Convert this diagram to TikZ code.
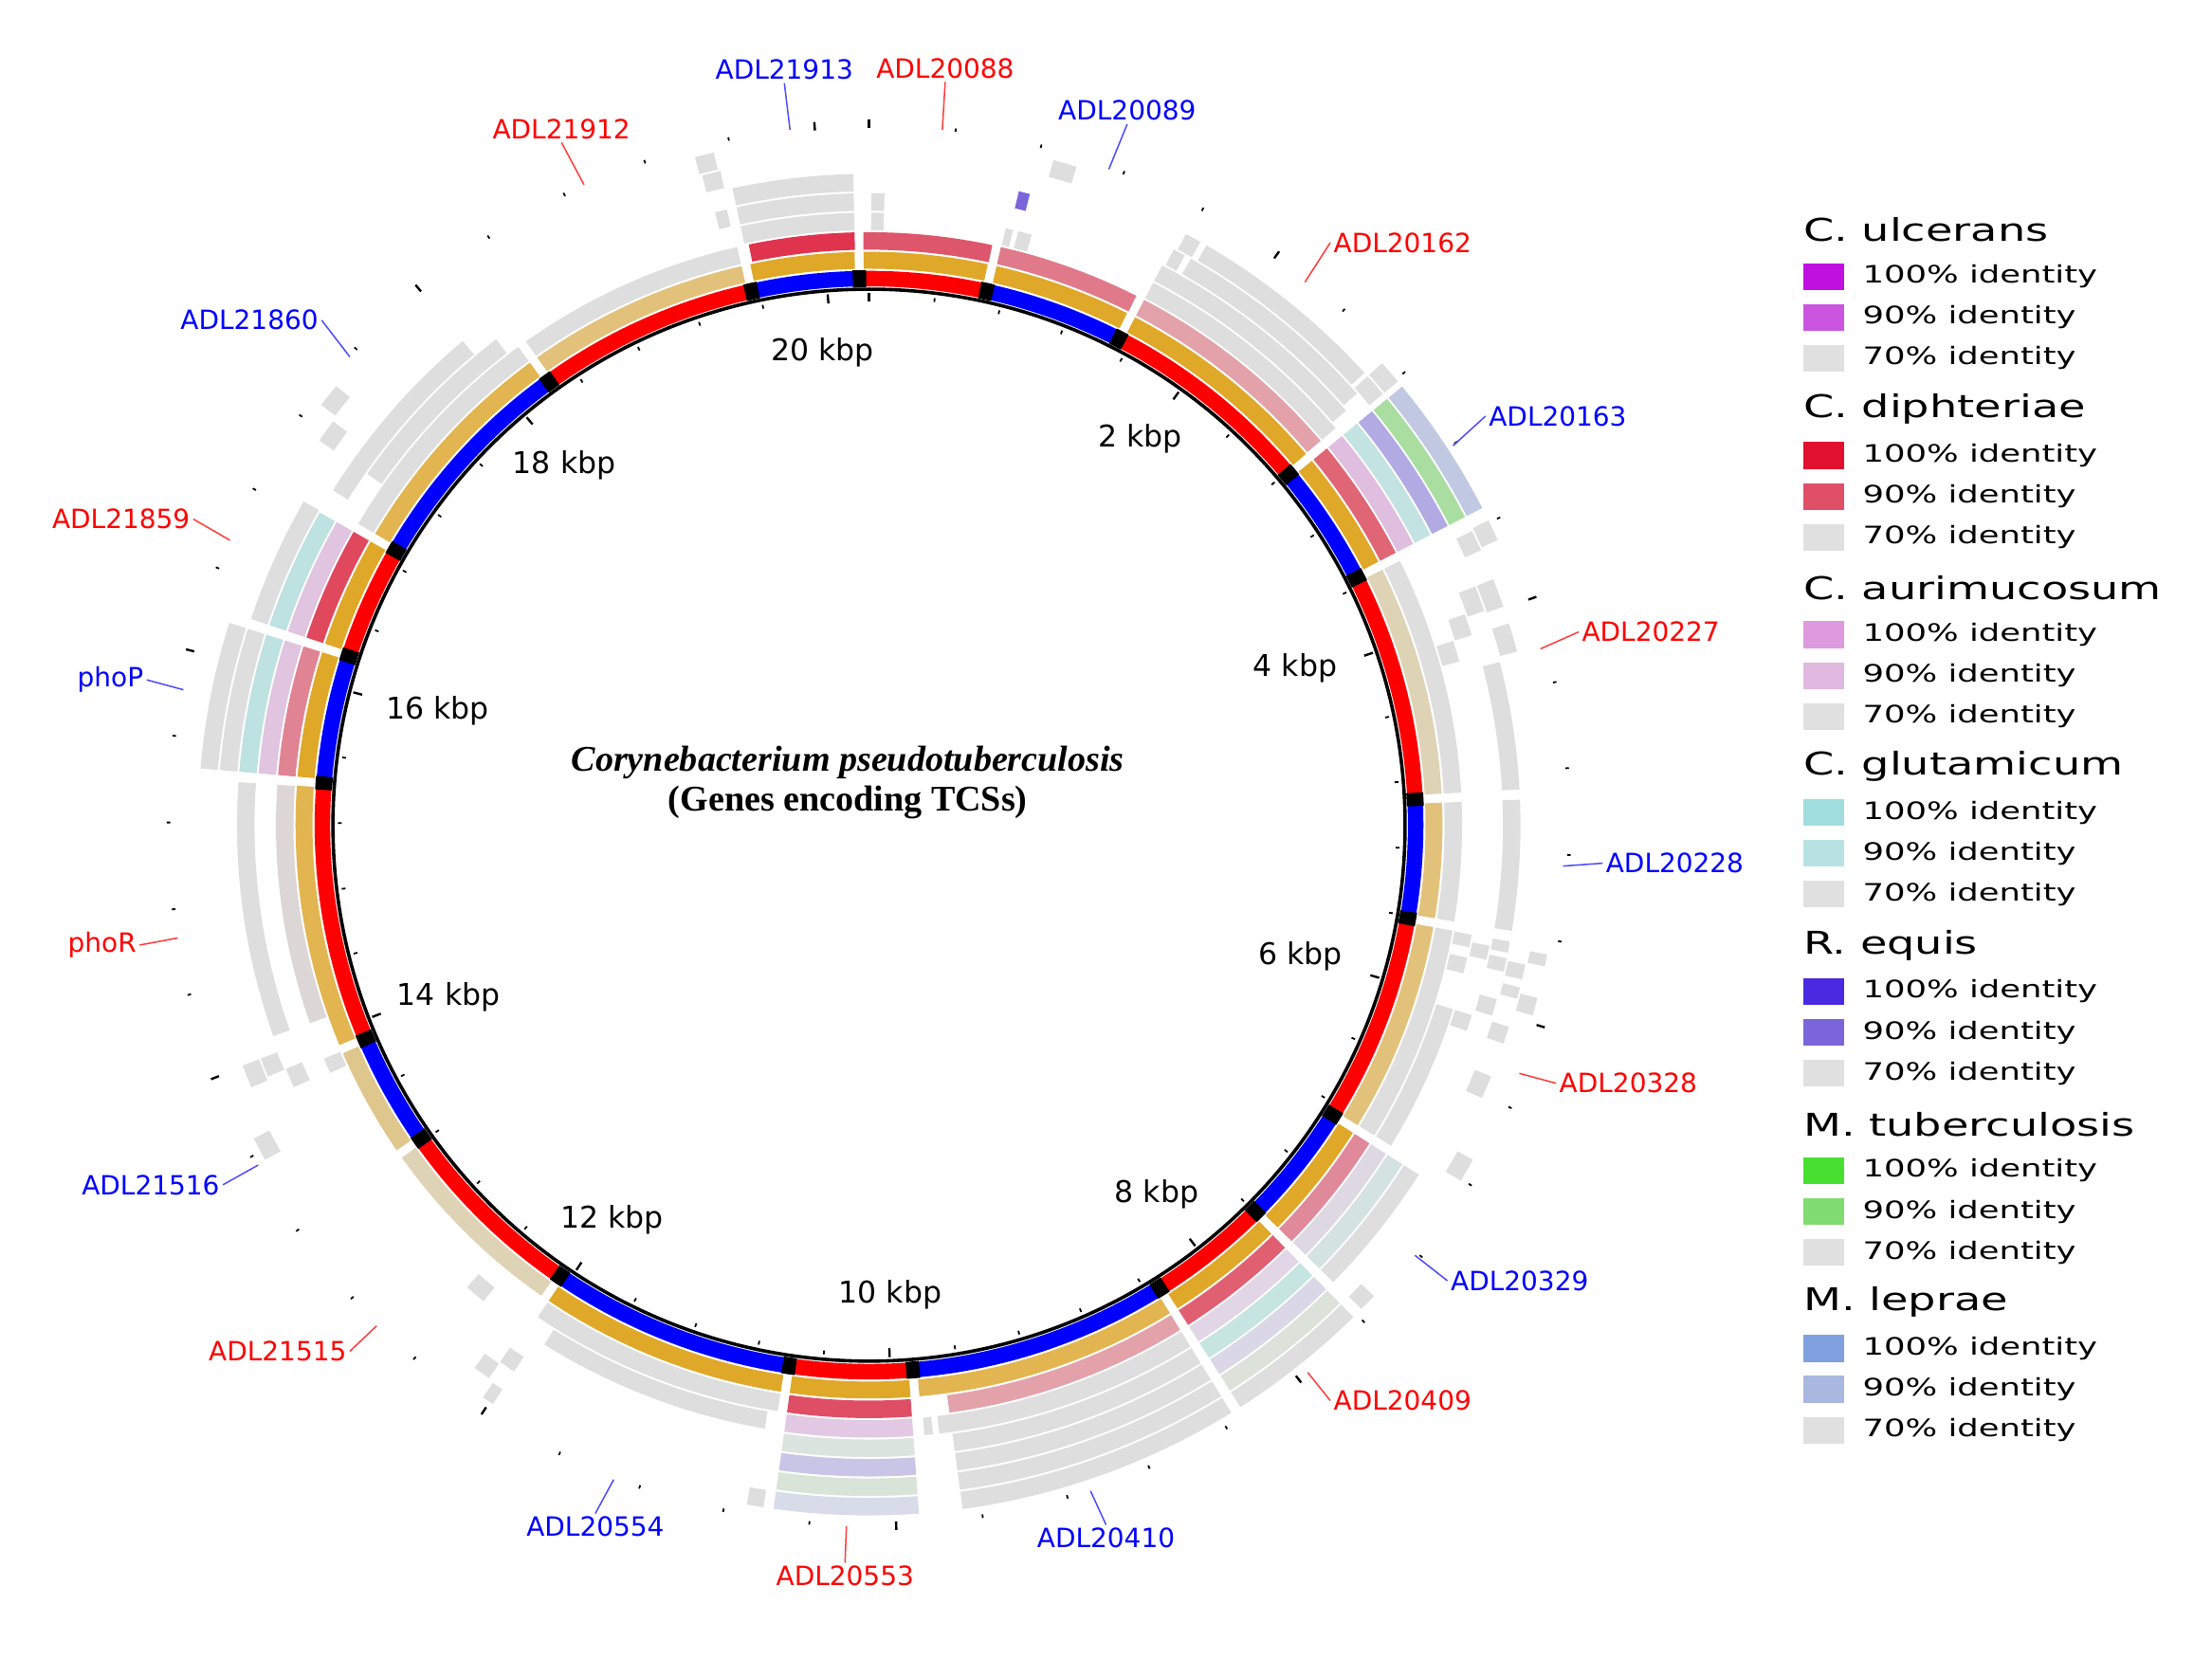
\documentclass[tikz,border=0pt]{standalone}
\usepackage{fontspec}
\setmainfont{DejaVu Sans}
\newfontfamily\serifb{Liberation Serif}
\newfontfamily\legfont[FakeStretch=1.4]{DejaVu Sans}
\definecolor{genred}{HTML}{FF0000}
\definecolor{genblue}{HTML}{0000FF}
\definecolor{leadr}{HTML}{FF3a3a}
\definecolor{leadb}{HTML}{4a4aFF}
\definecolor{gd}{HTML}{E0A828}
\definecolor{gmed}{HTML}{E2B550}
\definecolor{glight}{HTML}{E2C27A}
\definecolor{gbeige}{HTML}{DED3B5}
\definecolor{gtan}{HTML}{DFC68C}
\definecolor{gry}{HTML}{DEDEDE}
\definecolor{ra}{HTML}{E0344E}
\definecolor{rb}{HTML}{DE566C}
\definecolor{rc}{HTML}{E07A8A}
\definecolor{rd}{HTML}{E3A2AA}
\definecolor{re}{HTML}{E06676}
\definecolor{rf}{HTML}{E0899A}
\definecolor{rg}{HTML}{E06072}
\definecolor{rh}{HTML}{E04E66}
\definecolor{ri}{HTML}{DCD6D6}
\definecolor{rj}{HTML}{E08494}
\definecolor{rk}{HTML}{E0485E}
\definecolor{pa}{HTML}{DFBEDF}
\definecolor{pb}{HTML}{DDD8E2}
\definecolor{pc}{HTML}{E2D6E6}
\definecolor{pd}{HTML}{E2C8E2}
\definecolor{pe}{HTML}{E0C4E0}
\definecolor{ta}{HTML}{C2E3E2}
\definecolor{tb}{HTML}{D5E2E2}
\definecolor{tc}{HTML}{C6E4E0}
\definecolor{td}{HTML}{DCE4E0}
\definecolor{te}{HTML}{BEE1E1}
\definecolor{va}{HTML}{B2AAE2}
\definecolor{vb}{HTML}{7A66DA}
\definecolor{vc}{HTML}{DAD8E6}
\definecolor{vd}{HTML}{C9C5E6}
\definecolor{ga}{HTML}{A9DEA0}
\definecolor{gb}{HTML}{DCE1DA}
\definecolor{gc}{HTML}{D7E4D7}
\definecolor{ba}{HTML}{C1C9E2}
\definecolor{bb}{HTML}{D8DCE8}
\definecolor{lua}{HTML}{C010E0}
\definecolor{lub}{HTML}{CC55E0}
\definecolor{lgr}{HTML}{E0E0E0}
\definecolor{lda}{HTML}{E0102E}
\definecolor{ldb}{HTML}{DF5068}
\definecolor{laa}{HTML}{DE9ADE}
\definecolor{lab}{HTML}{E0B8E0}
\definecolor{lca}{HTML}{A0DEDE}
\definecolor{lcb}{HTML}{B8E2E2}
\definecolor{lra}{HTML}{4A2AE0}
\definecolor{lrb}{HTML}{7A66DA}
\definecolor{lma}{HTML}{48E030}
\definecolor{lmb}{HTML}{80DC70}
\definecolor{lla}{HTML}{80A0E0}
\definecolor{llb}{HTML}{A8B8E0}
\newcommand{\arcseg}[5]{\fill[#5] ({#1-90}:#3) arc[start angle={#1-90},end angle={#2-90},radius=#3] -- ({#2-90}:#4) arc[start angle={#2-90},end angle={#1-90},radius=#4] -- cycle;}
\newcommand{\rseg}[4]{\pgfmathsetmacro{\myrin}{408+(#1-1)*13.8}\pgfmathsetmacro{\myrout}{\myrin+12.4}\arcseg{#2}{#3}{\myrin}{\myrout}{#4}}
\newcommand{\gseg}[3]{\arcseg{#1}{#2}{394.5}{406.5}{#3}}
\newcommand{\legrow}[4]{\fill[#3] (1278,#2-9.5) rectangle (1307,#2+9.5); \node[legtext] (leg#1) at (1320,#2) {#4};}
\begin{document}
\begin{tikzpicture}[x=0.5pt,y=-0.5pt,
  lbl/.style={inner sep=1pt, font=\fontsize{9.4}{11}\selectfont},
  lblred/.style={lbl, text=genred},
  lblblue/.style={lbl, text=genblue},
  leadred/.style={draw=leadr, line width=0.5pt},
  leadblue/.style={draw=leadb, line width=0.5pt},
  kbplabel/.style={font=\fontsize{10.6}{12}\selectfont, inner sep=0pt},
  legtext/.style={anchor=west, inner sep=0pt, font=\legfont\fontsize{8.5}{10}\selectfont},
  leghead/.style={anchor=west, inner sep=0pt, font=\legfont\fontsize{11.1}{13}\selectfont},
  tickminor/.style={line width=0.6pt},
  tickmajor/.style={line width=0.8pt}]
\useasboundingbox (0,0) rectangle (1568,1175);
\fill[white] (0,0) rectangle (1568,1175);
\begin{scope}[shift={(616,585)}]
% gene ring
\arcseg{-1}{12.4}{382}{393}{genred}
\arcseg{12.4}{27.2}{382}{393}{genblue}
\arcseg{27.2}{50.1}{382}{393}{genred}
\arcseg{50.1}{63.1}{382}{393}{genblue}
\arcseg{63.1}{87.3}{382}{393}{genred}
\arcseg{87.3}{99.8}{382}{393}{genblue}
\arcseg{99.8}{122}{382}{393}{genred}
\arcseg{122}{135}{382}{393}{genblue}
\arcseg{135}{147.9}{382}{393}{genred}
\arcseg{147.9}{175.4}{382}{393}{genblue}
\arcseg{175.4}{188.4}{382}{393}{genred}
\arcseg{188.4}{214.4}{382}{393}{genblue}
\arcseg{214.4}{235}{382}{393}{genred}
\arcseg{235}{247}{382}{393}{genblue}
\arcseg{247}{274.4}{382}{393}{genred}
\arcseg{274.4}{288}{382}{393}{genblue}
\arcseg{288}{300.1}{382}{393}{genred}
\arcseg{300.1}{324.2}{382}{393}{genblue}
\arcseg{324.2}{347.6}{382}{393}{genred}
\arcseg{347.6}{359}{382}{393}{genblue}
\foreach \bb in {-1,12.4,27.2,50.1,63.1,87.3,99.8,122,135,147.9,175.4,188.4,214.4,235,247,274.4,288,300.1,324.2,347.6} {\arcseg{\bb-0.7}{\bb+0.7}{381.5}{393.5}{black}}
% gold ring
\gseg{-0.55}{11.95}{gd}
\gseg{12.85}{26.75}{gd}
\gseg{27.65}{49.65}{gd}
\gseg{50.55}{62.65}{gd}
\gseg{63.55}{86.85}{gbeige}
\gseg{87.75}{99.35}{glight}
\gseg{100.25}{121.55}{glight}
\gseg{122.45}{134.55}{gd}
\gseg{135.45}{147.45}{gd}
\gseg{148.35}{174.95}{gmed}
\gseg{175.85}{187.95}{gd}
\gseg{188.85}{213.95}{gd}
\gseg{214.85}{234.55}{gbeige}
\gseg{235.45}{246.55}{gtan}
\gseg{247.45}{273.95}{gmed}
\gseg{274.85}{287.55}{gd}
\gseg{288.45}{299.65}{gd}
\gseg{300.55}{323.75}{gmed}
\gseg{324.65}{347.15}{glight}
\gseg{348.05}{358.55}{gd}
% ring 1
\rseg{1}{348.3}{358.6}{ra}
\rseg{1}{-0.55}{12.0}{rb}
\rseg{1}{12.85}{26.8}{rc}
\rseg{1}{27.65}{49.6}{rd}
\rseg{1}{50.55}{62.65}{re}
\rseg{1}{63.55}{86.85}{gry}
\rseg{1}{87.75}{99.35}{gry}
\rseg{1}{100.25}{121.55}{gry}
\rseg{1}{122.45}{134.55}{rf}
\rseg{1}{135.45}{147.45}{rg}
\rseg{1}{148.35}{172.2}{rd}
\rseg{1}{175.85}{187.95}{rh}
\rseg{1}{188.85}{213.95}{gry}
\rseg{1}{245.3}{246.8}{gry}
\rseg{1}{250.5}{273.9}{ri}
\rseg{1}{274.85}{287.55}{rj}
\rseg{1}{288.45}{299.65}{rk}
\rseg{1}{300.55}{323.75}{gry}
\rseg{1}{324.65}{347.15}{gry}
% ring 2
\rseg{2}{347.9}{358.6}{gry}
\rseg{2}{0.2}{1.4}{gry}
\rseg{2}{12.9}{13.6}{gry}
\rseg{2}{14.1}{15.4}{gry}
\rseg{2}{27.65}{49.6}{gry}
\rseg{2}{50.55}{62.65}{pa}
\rseg{2}{72.5}{74.5}{gry}
\rseg{2}{100.3}{101.5}{gry}
\rseg{2}{102.5}{104}{gry}
\rseg{2}{107.5}{121.55}{gry}
\rseg{2}{122.45}{134.55}{pb}
\rseg{2}{135.45}{147.45}{pc}
\rseg{2}{148.35}{173.4}{gry}
\rseg{2}{174}{174.8}{gry}
\rseg{2}{175.85}{187.95}{pd}
\rseg{2}{189.8}{212}{gry}
\rseg{2}{219}{221}{gry}
\rseg{2}{274.85}{287.55}{pe}
\rseg{2}{288.45}{299.65}{pe}
\rseg{2}{305}{322.5}{gry}
% ring 3
\rseg{3}{347.9}{358.6}{gry}
\rseg{3}{0.2}{1.4}{gry}
\rseg{3}{27.65}{49}{gry}
\rseg{3}{50.55}{62.65}{ta}
\rseg{3}{70.5}{72.5}{gry}
\rseg{3}{101}{102.3}{gry}
\rseg{3}{107.5}{109}{gry}
\rseg{3}{122.45}{134.55}{tb}
\rseg{3}{135.45}{147.45}{tc}
\rseg{3}{148.35}{172.2}{gry}
\rseg{3}{175.85}{187.95}{td}
\rseg{3}{245.5}{247.3}{gry}
\rseg{3}{250.5}{273.9}{gry}
\rseg{3}{274.85}{287.55}{te}
\rseg{3}{288.45}{299.65}{te}
\rseg{3}{302}{320}{gry}
\rseg{3}{345.9}{347}{gry}
% ring 4
\rseg{4}{347.9}{358.6}{gry}
\rseg{4}{13.3}{14.3}{vb}
\rseg{4}{27.9}{29}{gry}
\rseg{4}{29.6}{48.5}{gry}
\rseg{4}{50.55}{62.65}{va}
\rseg{4}{68.5}{70.8}{gry}
\rseg{4}{75.5}{86.85}{gry}
\rseg{4}{87.75}{99.35}{gry}
\rseg{4}{100.3}{101.3}{gry}
\rseg{4}{101.8}{103}{gry}
\rseg{4}{105.5}{107}{gry}
\rseg{4}{122.45}{134.55}{gry}
\rseg{4}{135.45}{147.45}{vc}
\rseg{4}{148.35}{172.2}{gry}
\rseg{4}{175.85}{187.95}{vd}
\rseg{4}{213}{214.5}{gry}
\rseg{4}{247.3}{249}{gry}
\rseg{4}{274.85}{287.55}{gry}
\rseg{4}{288.45}{299.8}{gry}
% ring 5
\rseg{5}{28.2}{29.6}{gry}
\rseg{5}{30.2}{47.6}{gry}
\rseg{5}{48}{50}{gry}
\rseg{5}{50.55}{62.65}{ga}
\rseg{5}{64}{65.8}{gry}
\rseg{5}{68.5}{71}{gry}
\rseg{5}{72.5}{75}{gry}
\rseg{5}{102}{103.3}{gry}
\rseg{5}{104}{105}{gry}
\rseg{5}{107.5}{109}{gry}
\rseg{5}{112}{114}{gry}
\rseg{5}{135.45}{147.45}{gb}
\rseg{5}{148.35}{172.2}{gry}
\rseg{5}{175.85}{187.95}{gc}
\rseg{5}{214.5}{216}{gry}
\rseg{5}{247}{249}{gry}
\rseg{5}{274.85}{287.55}{gry}
\rseg{5}{305}{307}{gry}
\rseg{5}{345.6}{347.2}{gry}
% ring 6
\rseg{6}{15.5}{17.5}{gry}
\rseg{6}{48}{50}{gry}
\rseg{6}{50.55}{62.65}{ba}
\rseg{6}{63.8}{65.6}{gry}
\rseg{6}{100.8}{101.8}{gry}
\rseg{6}{104.5}{106}{gry}
\rseg{6}{119}{121}{gry}
\rseg{6}{133}{134.5}{gry}
\rseg{6}{135.45}{147.45}{gry}
\rseg{6}{148.35}{172.2}{gry}
\rseg{6}{175.85}{187.95}{bb}
\rseg{6}{188.8}{190.2}{gry}
\rseg{6}{213}{214}{gry}
\rseg{6}{241}{243}{gry}
\rseg{6}{307.5}{309.5}{gry}
\rseg{6}{345.4}{347}{gry}
% ticks
\foreach \k in {0,...,50}{
  \pgfmathsetmacro{\tka}{\k*0.4*360/20.25-90}
  \pgfmathtruncatemacro{\tkm}{mod(\k,5)}
  \ifnum\tkm=0
    \draw[tickmajor] (\tka:371) -- (\tka:377.5);
    \draw[tickmajor] (\tka:494) -- (\tka:500);
  \else
    \draw[tickminor] (\tka:373.8) -- (\tka:376.5);
    \draw[tickminor] (\tka:495.3) -- (\tka:497.8);
  \fi
}
\draw[line width=1.2pt] (0,0) circle[radius=380];
\end{scope}
% kbp labels
\node[kbplabel] (k2) at (808,311) {2 kbp};
\node[kbplabel] (k4) at (918,474) {4 kbp};
\node[kbplabel] (k6) at (922,678) {6 kbp};
\node[kbplabel] (k8) at (820,847) {8 kbp};
\node[kbplabel] (k10) at (631,918) {10 kbp};
\node[kbplabel] (k12) at (434,865) {12 kbp};
\node[kbplabel] (k14) at (318,707) {14 kbp};
\node[kbplabel] (k16) at (310,504) {16 kbp};
\node[kbplabel] (k18) at (400,330) {18 kbp};
\node[kbplabel] (k20) at (583,250) {20 kbp};
% center title
\node[align=center, font=\serifb\fontsize{12.8}{14}\selectfont\bfseries] (ctitle) at (601,555) {\textit{Corynebacterium pseudotuberculosis}\\(Genes encoding TCSs)};
% gene labels
\node[lblblue, anchor=south] (L21913) at (556,59) {ADL21913};
\coordinate (E21913) at (560,92);
\draw[leadblue] (L21913.south) -- (E21913);
\node[lblred, anchor=south] (L20088) at (670,58) {ADL20088};
\coordinate (E20088) at (668,92);
\draw[leadred] (L20088.south) -- (E20088);
\node[lblblue, anchor=south] (L20089) at (799,88) {ADL20089};
\coordinate (E20089) at (786,120);
\draw[leadblue] (L20089.south) -- (E20089);
\node[lblred, anchor=south] (L21912) at (398,101) {ADL21912};
\coordinate (E21912) at (414,131);
\draw[leadred] (L21912.south) -- (E21912);
\node[lblred, anchor=west] (L20162) at (943,172) {ADL20162};
\coordinate (E20162) at (925,200);
\draw[leadred] (L20162.west) -- (E20162);
\node[lblblue, anchor=west] (L20163) at (1053,295) {ADL20163};
\coordinate (E20163) at (1030,316);
\draw[leadblue] (L20163.west) -- (E20163);
\node[lblred, anchor=west] (L20227) at (1119,448) {ADL20227};
\coordinate (E20227) at (1092,460);
\draw[leadred] (L20227.west) -- (E20227);
\node[lblblue, anchor=west] (L20228) at (1136,612) {ADL20228};
\coordinate (E20228) at (1108,614);
\draw[leadblue] (L20228.west) -- (E20228);
\node[lblred, anchor=west] (L20328) at (1103,768) {ADL20328};
\coordinate (E20328) at (1077,761);
\draw[leadred] (L20328.west) -- (E20328);
\node[lblblue, anchor=west] (L20329) at (1026,908) {ADL20329};
\coordinate (E20329) at (1003,890);
\draw[leadblue] (L20329.west) -- (E20329);
\node[lblred, anchor=west] (L20409) at (943,993) {ADL20409};
\coordinate (E20409) at (927,973);
\draw[leadred] (L20409.west) -- (E20409);
\node[lblblue, anchor=east] (L21860) at (228,227) {ADL21860};
\coordinate (E21860) at (248,253);
\draw[leadblue] (L21860.east) -- (E21860);
\node[lblred, anchor=east] (L21859) at (137,368) {ADL21859};
\coordinate (E21859) at (163,383);
\draw[leadred] (L21859.east) -- (E21859);
\node[lblblue, anchor=east] (LphoP) at (104,482) {phoP};
\coordinate (EphoP) at (130,489);
\draw[leadblue] (LphoP.east) -- (EphoP);
\node[lblred, anchor=east] (LphoR) at (99,670) {phoR};
\coordinate (EphoR) at (126,665);
\draw[leadred] (LphoR.east) -- (EphoR);
\node[lblblue, anchor=east] (L21516) at (158,840) {ADL21516};
\coordinate (E21516) at (183,826);
\draw[leadblue] (L21516.east) -- (E21516);
\node[lblred, anchor=east] (L21515) at (248,958) {ADL21515};
\coordinate (E21515) at (267,940);
\draw[leadred] (L21515.east) -- (E21515);
\node[lblblue, anchor=north] (L20554) at (422,1073) {ADL20554};
\coordinate (E20554) at (435,1049);
\draw[leadblue] (L20554.north) -- (E20554);
\node[lblblue, anchor=north] (L20410) at (784,1081) {ADL20410};
\coordinate (E20410) at (773,1057);
\draw[leadblue] (L20410.north) -- (E20410);
\node[lblred, anchor=north] (L20553) at (599,1108) {ADL20553};
\coordinate (E20553) at (600,1082);
\draw[leadred] (L20553.north) -- (E20553);
% legend
\node[leghead] (h1) at (1278,163) {C. ulcerans};
\legrow{11}{196}{lua}{100\% identity}
\legrow{12}{225}{lub}{90\% identity}
\legrow{13}{254}{lgr}{70\% identity}
\node[leghead] (h2) at (1278,290) {C. diphteriae};
\legrow{21}{323}{lda}{100\% identity}
\legrow{22}{352}{ldb}{90\% identity}
\legrow{23}{381}{lgr}{70\% identity}
\node[leghead] (h3) at (1278,417) {C. aurimucosum};
\legrow{31}{450}{laa}{100\% identity}
\legrow{32}{479}{lab}{90\% identity}
\legrow{33}{508}{lgr}{70\% identity}
\node[leghead] (h4) at (1278,543) {C. glutamicum};
\legrow{41}{576}{lca}{100\% identity}
\legrow{42}{605}{lcb}{90\% identity}
\legrow{43}{634}{lgr}{70\% identity}
\node[leghead] (h5) at (1278,670) {R. equis};
\legrow{51}{703}{lra}{100\% identity}
\legrow{52}{732}{lrb}{90\% identity}
\legrow{53}{761}{lgr}{70\% identity}
\node[leghead] (h6) at (1278,797) {M. tuberculosis};
\legrow{61}{830}{lma}{100\% identity}
\legrow{62}{859}{lmb}{90\% identity}
\legrow{63}{888}{lgr}{70\% identity}
\node[leghead] (h7) at (1278,923) {M. leprae};
\legrow{71}{956}{lla}{100\% identity}
\legrow{72}{985}{llb}{90\% identity}
\legrow{73}{1014}{lgr}{70\% identity}
\end{tikzpicture}
\end{document}
